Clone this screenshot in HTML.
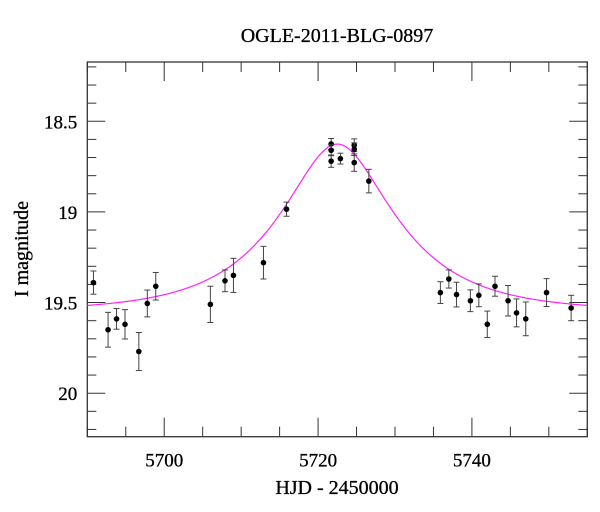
<!DOCTYPE html>
<html><head><meta charset="utf-8"><style>
html,body{margin:0;padding:0;background:#fff;}
svg{display:block;font-family:"Liberation Serif","DejaVu Serif",serif;}
</style></head><body>
<svg id="chart" width="600" height="512" viewBox="0 0 600 512" xmlns="http://www.w3.org/2000/svg">
<text x="337" y="42" text-anchor="middle" font-size="20" stroke="#000" stroke-width="0.3">OGLE-2011-BLG-0897</text>
<text transform="translate(28,249) rotate(-90)" text-anchor="middle" font-size="20" stroke="#000" stroke-width="0.3">I magnitude</text>
<text x="337" y="494" text-anchor="middle" font-size="20" stroke="#000" stroke-width="0.3">HJD - 2450000</text>
<g id="axes"></g>
<g id="model"></g>
<g id="points"></g>
</svg>
<script>
const hjd = [5690.8,5692.7,5693.8,5694.9,5696.7,5697.8,5698.9,5706.0,5707.9,5709.0,5712.9,5715.9,5721.7,5721.7,5721.7,5722.9,5724.7,5724.7,5724.7,5726.6,5735.9,5737.0,5738.0,5739.8,5740.9,5742.0,5743.0,5744.7,5745.8,5747.0,5749.7,5752.9];
const mag = [19.39,19.65,19.59,19.62,19.77,19.505,19.41,19.51,19.38,19.35,19.28,18.985,18.625,18.66,18.72,18.706,18.632,18.654,18.728,18.83,19.445,19.37,19.456,19.49,19.46,19.62,19.41,19.49,19.557,19.59,19.445,19.53];
const magErr = [0.064,0.096,0.057,0.081,0.105,0.074,0.076,0.1,0.06,0.094,0.09,0.039,0.03,0.03,0.034,0.03,0.035,0.035,0.048,0.065,0.06,0.05,0.068,0.06,0.063,0.073,0.055,0.084,0.077,0.093,0.077,0.07];
const xMajorTicks = [5700,5720,5740];
const yMajorTicks = [18.5,19,19.5,20];
const yTickLabels = ["18.5","19","19.5","20"];
const modelT0 = [5722.5];
const modelTE = [13.4];
const modelU0 = [0.46];
const modelBase = [19.55];

const NS="http://www.w3.org/2000/svg";
const L=87.3,R=587.3,T=62,B=436.7;
const xMin=5690,xMax=5755,yMin=18.173,yMax=20.24;
const X=v=>L+(v-xMin)/(xMax-xMin)*(R-L);
const Y=v=>T+(v-yMin)/(yMax-yMin)*(B-T);
function mk(tag,attrs,parent){const e=document.createElementNS(NS,tag);for(const k in attrs)e.setAttribute(k,attrs[k]);parent.appendChild(e);return e;}
const axes=document.getElementById('axes');
const frame=mk('rect',{x:L,y:T,width:R-L,height:B-T,fill:'none',stroke:'#333','stroke-width':1.3},axes);


for(let v=xMin;v<=xMax+0.001;v+=5){
  const maj=xMajorTicks.includes(v);const len=maj?19:10;const x=X(v);
  const t1=mk('line',{x1:x,x2:x,y1:B,y2:B-len,stroke:'#333','stroke-width':1},axes);
  
  
  const t2=mk('line',{x1:x,x2:x,y1:T,y2:T+len,stroke:'#333','stroke-width':1},axes);
  
  
}
xMajorTicks.forEach(v=>{
  const t=mk('text',{x:X(v),y:B+30,'text-anchor':'middle','font-size':19,stroke:'#000','stroke-width':0.3},axes);t.textContent=String(v);
  
  
});
for(let k=Math.ceil(yMin*10);k<=Math.floor(yMax*10);k++){
  const v=k/10;const maj=(k%5===0);const len=maj?18:9;const y=Y(v);
  const t1=mk('line',{x1:L,x2:L+len,y1:y,y2:y,stroke:'#333','stroke-width':1},axes);
  
  
  const t2=mk('line',{x1:R,x2:R-len,y1:y,y2:y,stroke:'#333','stroke-width':1},axes);
  
  
}
yMajorTicks.forEach((v,i)=>{
  const t=mk('text',{x:L-10,y:Y(v)+7,'text-anchor':'end','font-size':19,stroke:'#000','stroke-width':0.3},axes);t.textContent=yTickLabels[i];
  
  
});
let d='';
for(let i=0;i<=500;i++){
  const t=xMin+(xMax-xMin)*i/500;
  const tau=(t-modelT0[0])/modelTE[0];const u=Math.sqrt(modelU0[0]**2+tau*tau);
  const A=(u*u+2)/(u*Math.sqrt(u*u+4));
  const m=modelBase[0]-2.5*Math.log10(A);
  d+=(i?'L':'M')+X(t).toFixed(2)+','+Y(m).toFixed(2);
}
const curve=mk('path',{d:d,fill:'none',stroke:'#ff22ff','stroke-width':1.2},document.getElementById('model'));


const pg=document.getElementById('points');
hjd.forEach((t,i)=>{
  const x=X(t),y1=Y(mag[i]-magErr[i]),y2=Y(mag[i]+magErr[i]);
  const g=mk('g',{},pg);
  
  
  mk('line',{x1:x,x2:x,y1:y1,y2:y2,stroke:'#444','stroke-width':1},g);
  mk('line',{x1:x-3,x2:x+3,y1:y1,y2:y1,stroke:'#444','stroke-width':1},g);
  mk('line',{x1:x-3,x2:x+3,y1:y2,y2:y2,stroke:'#444','stroke-width':1},g);
  mk('circle',{cx:x,cy:Y(mag[i]),r:2.8,fill:'#000'},g);
});
</script>
</body></html>
